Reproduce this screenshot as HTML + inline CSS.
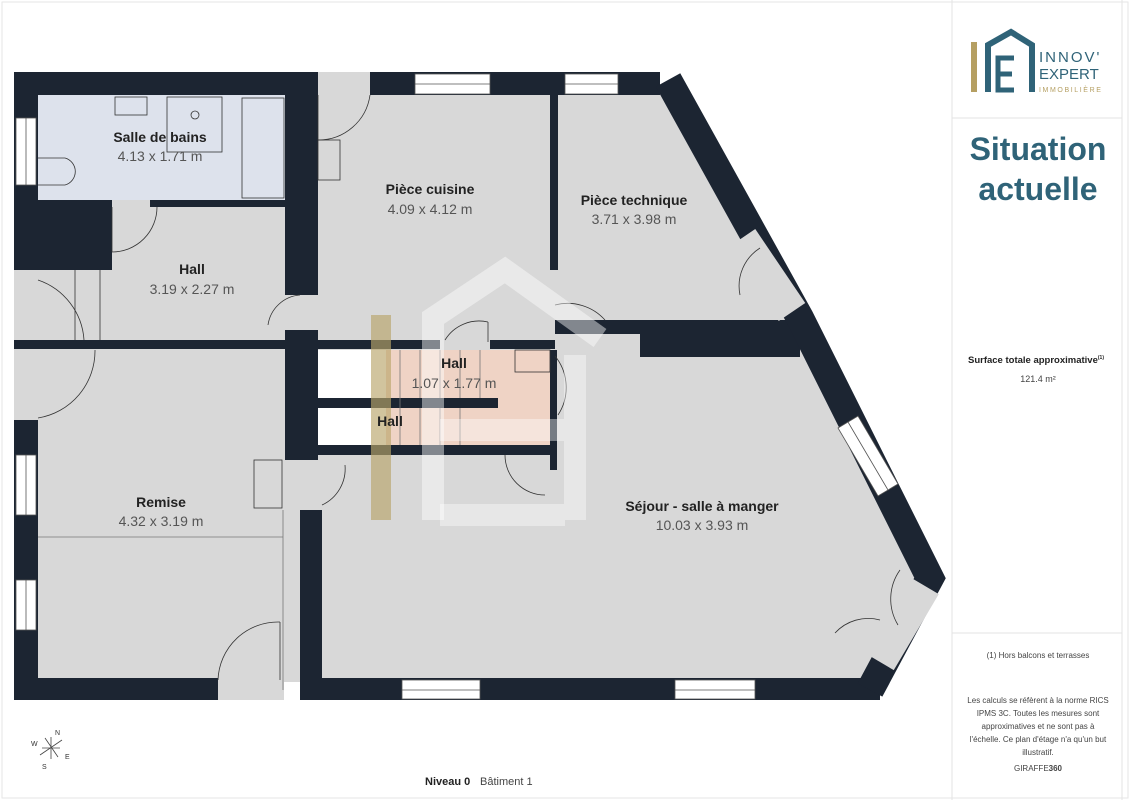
<!DOCTYPE html>
<html><head><meta charset="utf-8"><style>
body{margin:0;background:#fff;width:1130px;height:800px;overflow:hidden;font-family:"Liberation Sans",sans-serif}
</style></head><body>
<svg width="1130" height="800" viewBox="0 0 1130 800" xmlns="http://www.w3.org/2000/svg" font-family="Liberation Sans, sans-serif">
<rect x="0" y="0" width="1130" height="800" fill="#fff"/>
<rect x="2" y="2" width="1126" height="796" fill="none" stroke="#e6e6e6"/>
<!-- floor -->
<polygon points="38,95 660,95 800,330 925,578 862,682 38,682" fill="#d8d8d8"/>
<polygon points="14,270 38,270 38,420 14,420" fill="#d8d8d8"/>
<rect x="218" y="680" width="66" height="20" fill="#d8d8d8"/>
<rect x="318" y="72" width="52" height="24" fill="#d8d8d8"/>
<rect x="38" y="95" width="247" height="105" fill="#dde2ec"/>
<rect x="318" y="350" width="68" height="100" fill="#fff"/>
<rect x="386" y="350" width="164" height="96" fill="#efd3c5"/>
<!-- walls -->
<g fill="#1c2532">
<rect x="14" y="72" width="304" height="23"/>
<rect x="370" y="72" width="290" height="23"/>
<rect x="14" y="72" width="24" height="198"/>
<rect x="14" y="420" width="24" height="280"/>
<rect x="14" y="200" width="98" height="70"/>
<rect x="150" y="200" width="135" height="7"/>
<rect x="285" y="72" width="33" height="223"/>
<rect x="285" y="330" width="33" height="130"/>
<rect x="300" y="510" width="22" height="190"/>
<rect x="14" y="340" width="276" height="9"/>
<rect x="318" y="340" width="122" height="9"/>
<rect x="490" y="340" width="65" height="9"/>
<rect x="550" y="95" width="8" height="175"/>
<rect x="555" y="320" width="245" height="14"/>
<rect x="640" y="320" width="160" height="37"/>
<rect x="318" y="398" width="180" height="10"/>
<rect x="318" y="445" width="232" height="10"/>
<rect x="550" y="350" width="7" height="120"/>
<rect x="14" y="678" width="204" height="22"/>
<rect x="300" y="678" width="580" height="22"/>
</g>
<path d="M668,80 L800,318 L930,578 L870,690" fill="none" stroke="#1c2532" stroke-width="28" stroke-linejoin="miter"/>
<line x1="742" y1="238" x2="792" y2="312" stroke="#d8d8d8" stroke-width="32"/>
<line x1="925" y1="586" x2="880" y2="662" stroke="#d8d8d8" stroke-width="32"/>
<!-- windows -->
<g fill="#fff" stroke="#555" stroke-width="0.8">
<rect x="16" y="118" width="20" height="67"/><line x1="26" y1="118" x2="26" y2="185"/>
<rect x="16" y="455" width="20" height="60"/><line x1="26" y1="455" x2="26" y2="515"/>
<rect x="16" y="580" width="20" height="50"/><line x1="26" y1="580" x2="26" y2="630"/>
<rect x="415" y="74" width="75" height="20"/><line x1="415" y1="84" x2="490" y2="84"/>
<rect x="565" y="74" width="53" height="20"/><line x1="565" y1="84" x2="618" y2="84"/>
<rect x="402" y="680" width="78" height="19"/><line x1="402" y1="690" x2="480" y2="690"/>
<rect x="675" y="680" width="80" height="19"/><line x1="675" y1="690" x2="755" y2="690"/>
<polygon points="838,428 858,416 898,484 878,496"/><line x1="848" y1="422" x2="888" y2="490"/>
</g>
<!-- doors -->
<g fill="none" stroke="#333" stroke-width="0.8">
<path d="M318,140 A52,52 0 0 0 370,95"/><line x1="318" y1="140" x2="318" y2="95"/>
<path d="M112,252 A45,45 0 0 0 157,207"/><line x1="112" y1="207" x2="112" y2="252"/>
<path d="M38,280 A68,68 0 0 1 84,340"/>
<path d="M38,418 A68,68 0 0 0 95,350"/>
<path d="M268,325 A35,35 0 0 1 300,295"/>
<path d="M218,680 A60,60 0 0 1 280,622"/><line x1="280" y1="622" x2="280" y2="680"/>
<path d="M555,305 A50,50 0 0 1 605,320"/>
<path d="M445,340 A40,40 0 0 1 488,322"/><line x1="488" y1="322" x2="488" y2="342"/>
<path d="M555,356 A50,50 0 0 1 558,415"/>
<path d="M322,505 A40,40 0 0 0 345,465"/>
<path d="M505,455 A40,40 0 0 0 545,495"/>
<path d="M740,295 A45,45 0 0 1 760,248"/>
<path d="M900,570 A50,50 0 0 0 898,625"/>
<path d="M835,633 A45,45 0 0 1 880,620"/>
<rect x="115" y="97" width="32" height="18"/><rect x="167" y="97" width="55" height="55"/><circle cx="195" cy="115" r="4"/>
<rect x="242" y="98" width="42" height="100"/>
<path d="M38,158 H65 A14,14 0 0 1 65,185 H38"/>
<rect x="318" y="140" width="22" height="40"/>
<rect x="515" y="350" width="35" height="22"/>
<rect x="254" y="460" width="28" height="48"/>
<line x1="75" y1="270" x2="75" y2="340"/><line x1="100" y1="270" x2="100" y2="340"/>
</g>
<g stroke="#777" stroke-width="0.8">
<line x1="38" y1="537" x2="283" y2="537"/><line x1="283" y1="510" x2="283" y2="690"/>
<line x1="400" y1="350" x2="400" y2="445"/><line x1="420" y1="350" x2="420" y2="398"/><line x1="440" y1="350" x2="440" y2="398"/><line x1="460" y1="350" x2="460" y2="398"/><line x1="480" y1="350" x2="480" y2="398"/>
<line x1="420" y1="408" x2="420" y2="445"/><line x1="440" y1="408" x2="440" y2="445"/><line x1="460" y1="408" x2="460" y2="445"/>
</g>
<!-- watermark -->
<rect x="371" y="315" width="20" height="205" fill="#b8a46a" opacity="0.65"/>
<path d="M433,520 V318 L505,270 L600,338" fill="none" stroke="#fff" stroke-width="22" opacity="0.45"/>
<path d="M575,355 V520 M440,430 H565 M440,515 H565" fill="none" stroke="#fff" stroke-width="22" opacity="0.4"/>
<!-- labels -->
<g text-anchor="middle" font-size="14">
<text x="160" y="142" font-weight="bold" fill="#222">Salle de bains</text>
<text x="160" y="161" fill="#555">4.13 x 1.71 m</text>
<text x="192" y="274" font-weight="bold" fill="#222">Hall</text>
<text x="192" y="294" fill="#555">3.19 x 2.27 m</text>
<text x="430" y="194" font-weight="bold" fill="#222">Pièce cuisine</text>
<text x="430" y="214" fill="#555">4.09 x 4.12 m</text>
<text x="634" y="205" font-weight="bold" fill="#222">Pièce technique</text>
<text x="634" y="224" fill="#555">3.71 x 3.98 m</text>
<text x="454" y="368" font-weight="bold" fill="#222">Hall</text>
<text x="454" y="388" fill="#555">1.07 x 1.77 m</text>
<text x="390" y="426" font-weight="bold" fill="#222">Hall</text>
<text x="161" y="507" font-weight="bold" fill="#222">Remise</text>
<text x="161" y="526" fill="#555">4.32 x 3.19 m</text>
<text x="702" y="511" font-weight="bold" fill="#222">Séjour - salle à manger</text>
<text x="702" y="530" fill="#555">10.03 x 3.93 m</text>
</g>
<text x="425" y="785" font-size="11" font-weight="bold" fill="#222">Niveau 0</text>
<text x="480" y="785" font-size="11" fill="#444">Bâtiment 1</text>
<!-- compass -->
<g stroke="#444" stroke-width="0.8"><line x1="40" y1="755" x2="62" y2="740"/><line x1="45" y1="738" x2="58" y2="757"/><line x1="42" y1="748" x2="60" y2="748"/><line x1="51" y1="737" x2="51" y2="759"/></g>
<g font-size="7" fill="#333"><text x="55" y="735">N</text><text x="31" y="746">W</text><text x="65" y="759">E</text><text x="42" y="769">S</text></g>
<!-- right panel -->
<g stroke="#e3e3e3" fill="none"><line x1="952" y1="0" x2="952" y2="800"/><line x1="1122" y1="0" x2="1122" y2="800"/><line x1="952" y1="118" x2="1122" y2="118"/><line x1="952" y1="633" x2="1122" y2="633"/></g>
<rect x="971" y="42" width="6" height="50" fill="#b59f62"/>
<path d="M988,92 V45 L1011,32 L1032,45 V92" fill="none" stroke="#2f6378" stroke-width="6"/>
<path d="M1014,58 H998 V90 H1014 M998,74 H1012" fill="none" stroke="#2f6378" stroke-width="5"/>
<text x="1039" y="62" font-size="15" fill="#2f6378" letter-spacing="2">INNOV'</text>
<text x="1039" y="79" font-size="15" fill="#2f6378">EXPERT</text>
<text x="1039" y="92" font-size="7" fill="#b59f62" letter-spacing="1.6">IMMOBILIÈRE</text>
<text x="1038" y="160" text-anchor="middle" font-size="32" font-weight="bold" fill="#2f6378">Situation</text>
<text x="1038" y="200" text-anchor="middle" font-size="32" font-weight="bold" fill="#2f6378">actuelle</text>
<text x="1036" y="363" text-anchor="middle" font-size="9.5" font-weight="bold" fill="#222">Surface totale approximative<tspan font-size="5" dy="-4">(1)</tspan></text>
<text x="1038" y="382" text-anchor="middle" font-size="9" fill="#444">121.4 m²</text>
<text x="1038" y="658" text-anchor="middle" font-size="8" fill="#444">(1) Hors balcons et terrasses</text>
<g text-anchor="middle" font-size="8" fill="#444">
<text x="1038" y="703">Les calculs se réfèrent à la norme RICS</text>
<text x="1038" y="716">IPMS 3C. Toutes les mesures sont</text>
<text x="1038" y="729">approximatives et ne sont pas à</text>
<text x="1038" y="742">l'échelle. Ce plan d'étage n'a qu'un but</text>
<text x="1038" y="755">illustratif.</text>
<text x="1038" y="771">GIRAFFE<tspan font-weight="bold">360</tspan></text>
</g>
</svg>
</body></html>
